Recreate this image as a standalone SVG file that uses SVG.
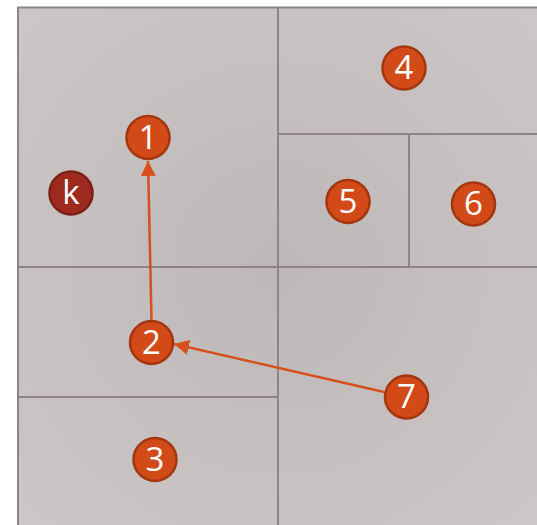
<svg xmlns="http://www.w3.org/2000/svg" width="537" height="525" viewBox="0 0 537 525">
<defs>
<radialGradient id="bg" cx="278" cy="267" r="360" gradientUnits="userSpaceOnUse">
<stop offset="0" stop-color="#BEB7B7"/>
<stop offset="1" stop-color="#CCC7C7"/>
</radialGradient>
<marker id="ah" viewBox="0 0 10 10" refX="10" refY="5" markerWidth="6" markerHeight="6" markerUnits="strokeWidth" orient="auto">
<path d="M0,0 L10,5 L0,10 z" fill="#D6501C"/>
</marker>
<style>
.grid{stroke:#8E8485;stroke-width:2;fill:none}
.n circle{fill:#D24A17;stroke:#A2360F;stroke-width:2.5}
.k circle{fill:#9C2A1F;stroke:#7C1F17;stroke-width:2.5}
text{font-family:"Open Sans","Noto Sans",sans-serif;font-size:33px;fill:#FFFFFF;text-anchor:middle;dominant-baseline:central}
.edge{stroke:#D6501C;stroke-width:2.5;fill:none}
</style>
</defs>
<rect x="0" y="0" width="537" height="525" fill="#FFFFFF"/>
<g id="grid">
<rect x="18" y="7.5" width="530" height="530" style="fill:url(#bg);stroke:#8E8485;stroke-width:2"/>
<line class="grid" x1="278" y1="7" x2="278" y2="525"/>
<line class="grid" x1="18" y1="267" x2="537" y2="267"/>
<line class="grid" x1="278" y1="134" x2="537" y2="134"/>
<line class="grid" x1="409" y1="134" x2="409" y2="267"/>
<line class="grid" x1="18" y1="397" x2="278" y2="397"/>
</g>
<g id="connectors">
<line class="edge" x1="151.5" y1="320" x2="148" y2="161" marker-end="url(#ah)"/>
<line class="edge" x1="384" y1="392" x2="174" y2="344" marker-end="url(#ah)"/>
</g>
<g id="node-k" class="k"><circle cx="71" cy="193" r="21.5"/><text x="71" y="191">k</text></g>
<g id="node-1" class="n"><circle cx="148" cy="137.5" r="21.5"/><text x="148" y="136">1</text></g>
<g id="node-2" class="n"><circle cx="151.5" cy="342.5" r="21.5"/><text x="151.5" y="341">2</text></g>
<g id="node-3" class="n"><circle cx="155" cy="459.5" r="21.5"/><text x="155" y="458">3</text></g>
<g id="node-4" class="n"><circle cx="404" cy="68" r="21.5"/><text x="404" y="66.5">4</text></g>
<g id="node-5" class="n"><circle cx="348" cy="201.5" r="21.5"/><text x="348" y="200">5</text></g>
<g id="node-6" class="n"><circle cx="473.5" cy="204" r="21.5"/><text x="473.5" y="202.5">6</text></g>
<g id="node-7" class="n"><circle cx="406.5" cy="397" r="21.5"/><text x="406.5" y="395.5">7</text></g>
</svg>
